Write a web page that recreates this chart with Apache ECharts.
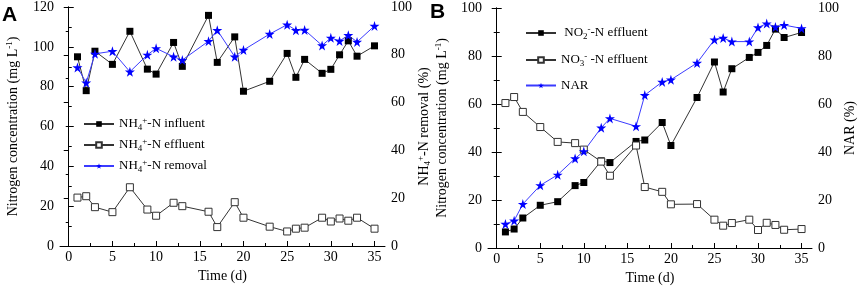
<!DOCTYPE html>
<html>
<head>
<meta charset="utf-8">
<script src="https://cdn.jsdelivr.net/npm/echarts@6/dist/echarts.min.js"></script>
<style>
  html, body { margin: 0; padding: 0; background: #fff; }
  #chart { width: 858px; height: 294px; }
</style>
</head>
<body>
<div id="chart"></div>
<script>
// panel A
const daysA = [1, 2, 3, 5, 7, 9, 10, 12, 13, 16, 17, 19, 20, 23, 25, 26, 27, 29, 30, 31, 32, 33, 35];
const influentA = [95, 78, 97.8, 91.2, 107.8, 88.8, 86.3, 102.2, 90.2, 115.8, 92.2, 105, 77.7, 82.7, 96.7, 84.7, 93.7, 86.7, 88.7, 96, 103, 95.3, 100.5];
const effluentA = [24.3, 25, 19.5, 17, 29.5, 18.3, 15.2, 21.7, 20, 17.2, 9.5, 22, 14.2, 9.7, 7.3, 8.7, 9.2, 14.2, 12.3, 13.8, 12.7, 14.2, 8.7];
const removalA = [74.7, 68.3, 80.4, 81.5, 72.9, 80, 82.7, 79.2, 77.8, 85.7, 90.3, 79.2, 82, 88.7, 92.6, 90.3, 90.4, 83.9, 87.1, 85.8, 88.2, 85.4, 92.1];

// panel B
const daysB = [1, 2, 3, 5, 7, 9, 10, 12, 13, 16, 17, 19, 20, 23, 25, 26, 27, 29, 30, 31, 32, 33, 35];
const no2B = [6.7, 7.9, 12.5, 17.8, 19.3, 26, 27.3, 36.3, 35.6, 44.4, 45, 52.3, 42.7, 62.7, 77.5, 65, 74.7, 79.4, 81.5, 84.4, 91.2, 87.7, 89.8];
const no3B = [60.4, 62.9, 56.7, 50.4, 44.2, 43.7, 41, 36, 30.1, 42.7, 25.4, 23.4, 18.2, 18.3, 11.8, 9.3, 10.4, 11.8, 7.5, 10.5, 9.6, 7.6, 7.9];
const narB = [10, 11.4, 18.3, 26.1, 30.5, 37.3, 40.3, 50.1, 54, 50.7, 63.7, 69.2, 70.1, 77.1, 86.8, 87.5, 86, 86, 91.9, 93.5, 92.1, 92.9, 91.5];

const xTicks = [0, 5, 10, 15, 20, 25, 30, 35];
const xMinorTicks = [2.5, 7.5, 12.5, 17.5, 22.5, 27.5, 32.5];

const FONT = 'Liberation Serif';
const STAR = 'path://M50,0 L61,35 L98,35 L68,57 L79,91 L50,70 L21,91 L32,57 L2,35 L39,35 Z';

const rich = {
  sub: { fontSize: 9, fontFamily: FONT, color: '#000', padding: [7, 0, 0, 0] },
  sup: { fontSize: 9, fontFamily: FONT, color: '#000', padding: [0, 0, 7, 0] },
};

const legendLabels = {
  'NH4 influent': 'NH{sub|4}{sup|+}-N influent',
  'NH4 effluent': 'NH{sub|4}{sup|+}-N effluent',
  'NH4 removal': 'NH{sub|4}{sup|+}-N removal',
  'NO2 effluent': ' NO{sub|2}{sup|-}-N effluent',
  'NO3 effluent': 'NO{sub|3}{sup|-} -N effluent',
  'NAR': 'NAR',
};

const pairs = (xs, ys) => xs.map((x, i) => [x, ys[i]]);

const textStyle = { fontFamily: FONT, fontSize: 14, color: '#000' };

const xAxisMain = gridIndex => ({
  type: 'value',
  gridIndex,
  min: -1,
  max: 36.2,
  position: 'bottom',
  name: 'Time (d)',
  nameLocation: 'middle',
  nameGap: 20,
  nameTextStyle: textStyle,
  axisLine: { show: true, lineStyle: { color: '#000', width: 1 } },
  axisTick: { inside: true, length: 5, customValues: xTicks, lineStyle: { color: '#000' } },
  axisLabel: { customValues: xTicks, margin: 4, ...textStyle },
  splitLine: { show: false },
});

const xAxisMinor = gridIndex => ({
  type: 'value',
  gridIndex,
  min: -1,
  max: 36.2,
  position: 'bottom',
  axisLine: { show: false },
  axisTick: { inside: true, length: 3, customValues: xMinorTicks, lineStyle: { color: '#000' } },
  axisLabel: { show: false },
  splitLine: { show: false },
});

const yAxis = (gridIndex, position, max, name, nameGap) => ({
  type: 'value',
  gridIndex,
  position,
  min: 0,
  max,
  interval: 20,
  name,
  nameLocation: 'middle',
  nameRotate: 90,
  nameGap,
  nameTextStyle: { ...textStyle, rich },
  axisLine: { show: true, lineStyle: { color: '#000', width: 1 } },
  axisTick: { show: true, inside: true, length: 5, lineStyle: { color: '#000' } },
  minorTick: { show: true, splitNumber: 2, length: 3, lineStyle: { color: '#000' } },
  axisLabel: { margin: 6, ...textStyle },
  splitLine: { show: false },
});

const filled = (name, data, xAxisIndex, yAxisIndex) => ({
  name,
  type: 'line',
  xAxisIndex,
  yAxisIndex,
  data,
  symbol: 'rect',
  symbolSize: 7,
  itemStyle: { color: '#000' },
  lineStyle: { color: '#333', width: 1 },
});

const open = (name, data, xAxisIndex, yAxisIndex) => ({
  name,
  type: 'line',
  xAxisIndex,
  yAxisIndex,
  data,
  symbol: 'rect',
  symbolSize: 7,
  itemStyle: { color: '#fff', borderColor: '#333', borderWidth: 1 },
  lineStyle: { color: '#333', width: 1 },
});

const star = (name, data, xAxisIndex, yAxisIndex) => ({
  name,
  type: 'line',
  xAxisIndex,
  yAxisIndex,
  data,
  symbol: STAR,
  symbolSize: 10,
  itemStyle: { color: '#0000ff' },
  lineStyle: { color: '#3b3bff', width: 1 },
});

const legend = (names, left, top, itemGap) => ({
  data: names,
  orient: 'vertical',
  left,
  top,
  padding: 0,
  itemGap,
  itemWidth: 30,
  itemHeight: 7,
  textStyle: { ...textStyle, fontSize: 13, rich },
  formatter: n => legendLabels[n],
});

const chart = echarts.init(document.getElementById('chart'), null, { renderer: 'canvas' });

chart.setOption({
  animation: false,
  backgroundColor: '#fff',
  grid: [
    { left: 60, top: 7, width: 325, height: 239 },
    { left: 488, top: 8, width: 324, height: 240 },
  ],
  xAxis: [xAxisMain(0), xAxisMinor(0), xAxisMain(1), xAxisMinor(1)],
  yAxis: [
    yAxis(0, 'left', 120, 'Nitrogen concentration (mg L{sup|-1})', 39),
    yAxis(0, 'right', 100, 'NH{sub|4}{sup|+}-N removal (%)', 26),
    yAxis(1, 'left', 100, 'Nitrogen concentration (mg L{sup|-1})', 38),
    yAxis(1, 'right', 100, 'NAR (%)', 30),
  ],
  legend: [
    legend(['NH4 influent', 'NH4 effluent', 'NH4 removal'], 83, 116, 5),
    legend(['NO2 effluent', 'NO3 effluent', 'NAR'], 525, 25, 11),
  ],
  graphic: [
    { type: 'text', left: 2, top: 5, style: { text: 'A', fontSize: 21, fontWeight: 'bold', fontFamily: 'Liberation Sans', fill: '#000' } },
    { type: 'text', left: 430, top: 2, style: { text: 'B', fontSize: 21, fontWeight: 'bold', fontFamily: 'Liberation Sans', fill: '#000' } },
  ],
  series: [
    filled('NH4 influent', pairs(daysA, influentA), 0, 0),
    open('NH4 effluent', pairs(daysA, effluentA), 0, 0),
    star('NH4 removal', pairs(daysA, removalA), 0, 1),
    filled('NO2 effluent', pairs(daysB, no2B), 2, 2),
    open('NO3 effluent', pairs(daysB, no3B), 2, 2),
    star('NAR', pairs(daysB, narB), 2, 3),
  ],
});
</script>
</body>
</html>
